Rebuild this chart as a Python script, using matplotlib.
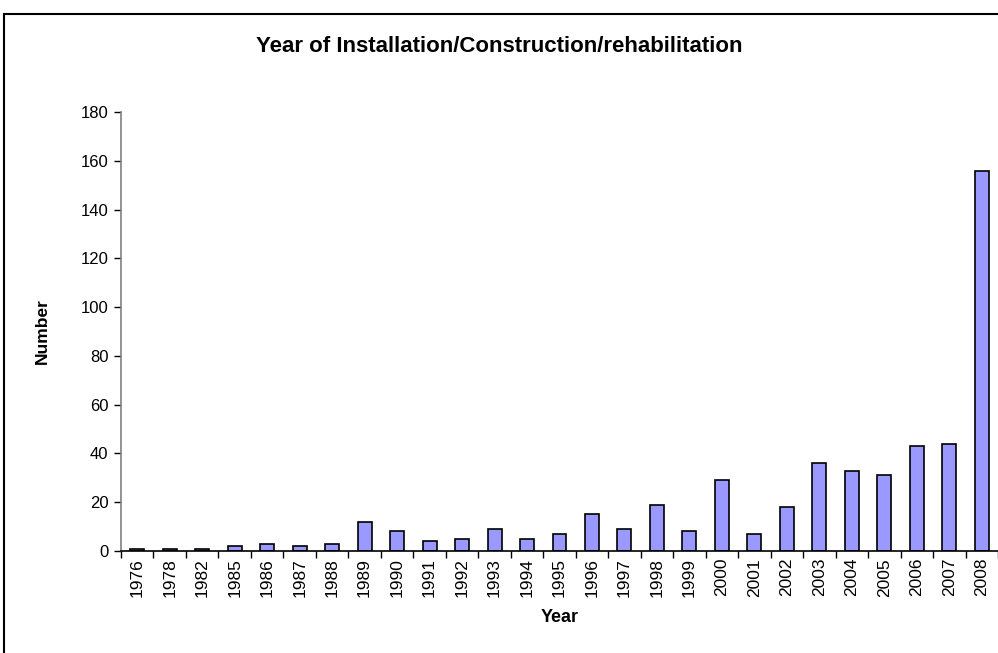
import matplotlib
matplotlib.use("Agg")
import matplotlib.pyplot as plt
from matplotlib.patches import Rectangle
import numpy as np

years = ["1976", "1978", "1982", "1985", "1986", "1987", "1988", "1989", "1990",
         "1991", "1992", "1993", "1994", "1995", "1996", "1997", "1998", "1999",
         "2000", "2001", "2002", "2003", "2004", "2005", "2006", "2007", "2008"]
counts = [1, 1, 1, 2, 3, 2, 3, 12, 8, 4, 5, 9, 5, 7, 15, 9, 19, 8, 29, 7, 18,
          36, 33, 31, 43, 44, 156]
yticks = list(range(0, 181, 20))

plt.rcParams['font.family'] = ['Liberation Sans', 'DejaVu Sans']

fig = plt.figure(figsize=(9.98, 6.53), dpi=100)
fig.patches.append(Rectangle((4 / 998, -0.05), 1.1, 1 - 14 / 653 + 0.05,
                             transform=fig.transFigure, fill=False,
                             edgecolor='black', linewidth=1.5))
ax = fig.add_axes([121 / 998, 1 - 551 / 653, (998 - 121) / 998, (551 - 112) / 653])

x = np.arange(len(years))
ax.bar(x, counts, width=0.43, color='#9999ff', edgecolor='black', linewidth=1.2)

ax.set_xlim(-0.5, len(years) - 0.5)
ax.set_ylim(0, 180)
ax.set_yticks(yticks)
ax.set_yticklabels([str(v) for v in yticks], fontsize=12)
ax.set_xticks(x)
ax.set_xticklabels(years, rotation=90, fontsize=12.5)
ax.tick_params(axis='x', length=0, pad=5)
ax.set_xticks(np.arange(-0.5, len(years), 1), minor=True)
ax.tick_params(axis='x', which='minor', length=5, direction='out', width=1)
ax.tick_params(axis='y', length=5, direction='out', width=1, pad=4)

for s in ['top', 'right']:
    ax.spines[s].set_visible(False)
ax.spines['left'].set_color('#808080')
ax.spines['left'].set_linewidth(1.2)
ax.spines['bottom'].set_linewidth(1.2)

ax.set_xlabel('Year', fontsize=13, fontweight='bold', labelpad=9)
ax.set_ylabel('Number', fontsize=12.5, fontweight='bold', labelpad=22)
fig.text(0.5, 1 - 47 / 653, 'Year of Installation/Construction/rehabilitation',
         ha='center', va='center', fontsize=16, fontweight='bold')

fig.savefig('out.png', dpi=100)
